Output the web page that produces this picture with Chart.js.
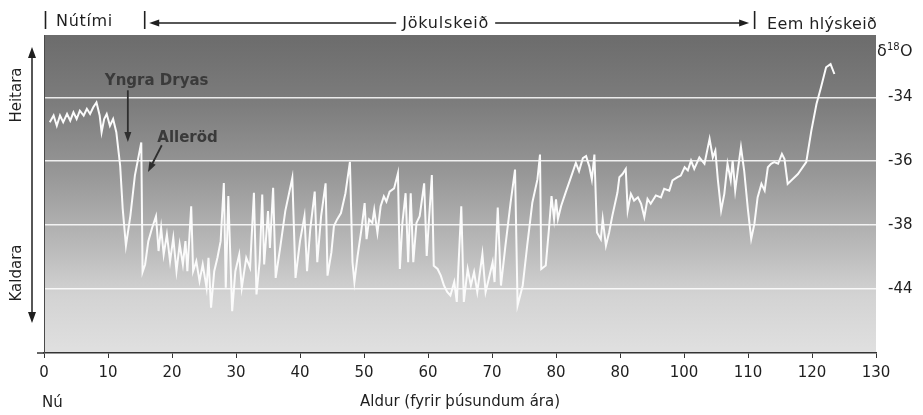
<!DOCTYPE html>
<html>
<head>
<meta charset="utf-8">
<script src="https://cdn.jsdelivr.net/npm/chart.js@4/dist/chart.umd.min.js"></script>
<style>
html, body { margin: 0; padding: 0; background: #fff; }
#wrap { width: 923px; height: 415px; }
</style>
</head>
<body>
<div id="wrap"><canvas id="chart" width="923" height="415"></canvas></div>
<script>
// age in thousand years before present
var ages = [
    0.9, 1.5, 2.0, 2.5, 3.0, 3.6, 4.1, 4.6, 5.1, 5.6, 6.2, 6.7, 7.2, 7.7, 8.2, 8.7, 9.0, 9.4, 9.8, 10.3,
    10.8, 11.3, 11.9, 12.3, 12.8, 13.5, 14.2, 15.2, 15.4,
    15.8, 16.3, 16.9, 17.5, 17.9, 18.3, 18.7, 19.2, 19.7, 20.2, 20.7, 21.2, 21.7, 22.1, 22.4, 23.0, 23.3,
    23.8, 24.3, 24.8, 25.4, 25.7, 26.1, 26.6, 27.1, 27.6, 28.1, 28.4, 28.8, 29.4, 29.9, 30.5, 30.9, 31.6,
    32.2, 32.8, 33.2, 33.7, 34.1, 34.4, 35.0, 35.3, 35.8, 36.2, 36.9, 37.7, 38.8, 39.3, 40.0, 40.7, 41.1,
    41.6, 42.3, 42.7, 43.3, 44.0, 44.3, 44.9, 45.3, 45.8, 46.4, 47.1, 47.8, 48.2, 48.5, 49.0, 49.6, 50.1,
    50.4, 50.8, 51.3, 51.6, 52.1, 52.6, 53.1, 53.5, 54.0, 54.7, 55.3, 55.6, 56.0, 56.5, 56.9, 57.3, 57.7,
    58.2, 58.7, 59.4, 59.8, 60.6, 60.9, 61.5, 62.0, 62.5, 63.0, 63.5, 64.1, 64.5, 65.2, 65.6, 66.2,
    66.7, 67.2, 67.7, 68.5, 69.0, 69.5, 70.1, 70.4, 70.9, 71.4, 72.1, 72.9, 73.6, 74.0, 74.8, 75.5, 76.3,
    77.1, 77.5, 77.7, 78.4, 78.9, 79.3, 79.7, 80.0, 80.3, 80.8, 81.5, 82.3, 83.1, 83.6, 84.2, 84.7, 85.2,
    85.6, 86.0, 86.4, 87.0, 87.3, 87.8, 88.3, 88.8, 89.6,
    89.9, 90.4, 90.9, 91.2, 91.7, 92.2, 92.8, 93.3, 93.8, 94.3, 94.8, 95.6, 96.4, 96.9, 97.7, 98.2, 99.0,
    99.5, 100.1, 100.6, 101.1, 101.6, 102.4, 103.2, 104.0, 104.5, 104.9, 105.3, 105.8, 106.3, 106.8,
    107.3, 107.6, 108.0, 108.4, 108.9, 109.4, 110.0, 110.5, 111.0, 111.5, 112.1, 112.6, 113.1, 113.6,
    114.1, 114.7, 115.3, 115.7, 116.2, 117.8, 119.1, 119.9, 120.7, 121.4, 122.2, 122.9, 123.5
];
var d18O = [
    -34.78, -34.57, -34.89, -34.57, -34.78, -34.52, -34.73, -34.47, -34.68, -34.42, -34.57, -34.36, -34.52, -34.31, -34.16, -34.57, -35.09, -34.68, -34.52, -34.89,
    -34.68, -35.09, -36.14, -37.49, -38.64, -37.70, -36.45, -35.41, -39.47,
    -39.23, -38.50, -38.08, -37.72, -38.81, -38.08, -38.92, -38.29, -39.13, -38.40, -39.44, -38.60, -39.23, -38.50, -39.44, -37.41, -39.44,
    -39.13, -39.75, -39.23, -39.96, -39.02, -40.58, -39.44, -39.02, -38.50, -36.68, -39.96, -37.09, -40.69, -39.44, -38.92, -39.96, -39.02,
    -39.33, -36.99, -40.17, -39.13, -37.04, -39.23, -37.56, -38.71, -36.83, -39.65, -38.71, -37.56, -36.52, -39.65, -38.50, -37.72, -39.44,
    -38.13, -36.95, -39.16, -37.72, -36.69, -39.58, -38.86, -38.03, -37.82, -37.62, -37.00, -36.02, -39.16, -39.78, -38.96, -38.13, -37.31,
    -38.44, -37.82, -37.93, -37.52, -38.24, -37.41, -37.10, -37.26, -36.95, -36.85, -36.38, -39.37, -37.93, -37.00, -39.16, -37.00, -39.16,
    -37.93, -37.72, -36.69, -38.96, -36.43, -39.27, -39.37, -39.58, -39.89, -40.09, -40.20, -39.78, -40.40, -37.41, -40.40, -39.37,
    -39.89, -39.47, -40.09, -38.90, -40.09, -39.68, -39.16, -39.78, -37.45, -39.89, -38.64, -37.30, -36.26, -40.51, -39.89, -38.64, -37.30,
    -36.57, -35.79, -39.37, -39.26, -38.12, -37.09, -37.81, -37.19, -37.81, -37.40, -36.98, -36.52, -36.05, -36.31, -35.90, -35.84, -36.16,
    -36.57, -35.79, -38.23, -38.44, -37.81, -38.64, -38.23, -37.71, -36.98,
    -36.50, -36.40, -36.24, -37.54, -37.02, -37.23, -37.13, -37.33, -37.75, -37.18, -37.33, -37.07, -37.13, -36.86, -36.92, -36.60, -36.50,
    -36.45, -36.19, -36.29, -35.98, -36.24, -35.88, -36.08, -35.30, -35.88, -35.67, -36.60, -37.54, -37.02, -36.08,
    -36.60, -35.98, -36.92, -36.29, -35.56, -36.29, -37.54, -38.43, -37.96, -37.13, -36.71, -36.92, -36.19, -36.08,
    -36.03, -36.08, -35.77, -35.93, -36.71, -36.40, -36.03, -35.04, -34.21, -33.69, -33.06, -32.96, -33.27
];

// the printed figure has "80" twice and "-44" under "-38"; kept as printed
var xTickLabels = ['0', '10', '20', '30', '40', '50', '60', '70', '80', '80', '100', '110', '120', '130'];
var yTickValues = [-40, -38, -36, -34];
var yTickLabels = ['-44', '-38', '-36', '-34'];

var periodBounds = [0, 15.5, 110.8];
var periodNames = ['Nútími', 'Jökulskeið', 'Eem hlýskeið'];

var FONT = '"DejaVu Sans", "Noto Sans", sans-serif';
var INK = '#1f1f1f';

function fitText(ctx, text, x, y, width) {
    ctx.letterSpacing = '0px';
    var w = ctx.measureText(text).width;
    var extra = (width - w) / text.length;
    if (extra > 0) ctx.letterSpacing = extra.toFixed(2) + 'px';
    ctx.fillText(text, x, y);
    ctx.letterSpacing = '0px';
}

function arrowHead(ctx, x1, y1, x2, y2, len, half) {
    var a = Math.atan2(y2 - y1, x2 - x1);
    ctx.beginPath();
    ctx.moveTo(x2, y2);
    ctx.lineTo(x2 - len * Math.cos(a) + half * Math.sin(a), y2 - len * Math.sin(a) - half * Math.cos(a));
    ctx.lineTo(x2 - len * Math.cos(a) - half * Math.sin(a), y2 - len * Math.sin(a) + half * Math.cos(a));
    ctx.closePath();
    ctx.fill();
}

function arrow(ctx, x1, y1, x2, y2, len, half) {
    var a = Math.atan2(y2 - y1, x2 - x1);
    ctx.beginPath();
    ctx.moveTo(x1, y1);
    ctx.lineTo(x2 - len * 0.6 * Math.cos(a), y2 - len * 0.6 * Math.sin(a));
    ctx.stroke();
    arrowHead(ctx, x1, y1, x2, y2, len, half);
}

var decorPlugin = {
    id: 'decor',
    beforeDraw: function (chart) {
        var ctx = chart.ctx, a = chart.chartArea;
        var g = ctx.createLinearGradient(0, a.top, 0, a.bottom);
        g.addColorStop(0, '#6c6c6c');
        g.addColorStop(0.22, '#7d7d7d');
        g.addColorStop(0.45, '#999999');
        g.addColorStop(0.68, '#bcbcbc');
        g.addColorStop(0.82, '#d3d3d3');
        g.addColorStop(1, '#e0e0e0');
        ctx.save();
        ctx.fillStyle = g;
        ctx.fillRect(a.left, a.top, a.right - a.left, a.bottom - a.top);
        ctx.restore();
    },
    afterDraw: function (chart) {
        var ctx = chart.ctx, a = chart.chartArea;
        var xs = chart.scales.x, ys = chart.scales.y;
        ctx.save();

        // left frame line and axis stub
        ctx.strokeStyle = '#4a4a4a';
        ctx.lineWidth = 1;
        ctx.beginPath();
        ctx.moveTo(a.left + 0.5, a.top);
        ctx.lineTo(a.left + 0.5, a.bottom);
        ctx.stroke();
        ctx.strokeStyle = '#333';
        ctx.lineWidth = 1.5;
        ctx.beginPath();
        ctx.moveTo(a.left - 7, a.bottom);
        ctx.lineTo(a.left, a.bottom);
        ctx.stroke();

        // period brackets above the plot
        ctx.fillStyle = INK;
        ctx.strokeStyle = INK;
        var bx = periodBounds.map(function (v) { return xs.getPixelForValue(v); });
        ctx.lineWidth = 1.6;
        bx.forEach(function (px) {
            ctx.beginPath();
            ctx.moveTo(px + 1.5, 11);
            ctx.lineTo(px + 1.5, 29);
            ctx.stroke();
        });
        ctx.font = '16px ' + FONT;
        ctx.textAlign = 'left';
        ctx.textBaseline = 'alphabetic';
        fitText(ctx, periodNames[0], bx[0] + 12, 26, 57);
        var midL = (bx[1] + bx[2]) / 2 - 46;
        fitText(ctx, periodNames[1], midL, 28, 87);
        fitText(ctx, periodNames[2], bx[2] + 14, 29, 110);
        ctx.lineWidth = 1.3;
        arrow(ctx, midL - 6, 23, bx[1] + 6, 23, 10, 3.5);
        arrow(ctx, midL + 93, 23, bx[2] - 4, 23, 10, 3.5);

        // warmer / colder arrow on the left
        ctx.lineWidth = 1.5;
        ctx.beginPath();
        ctx.moveTo(32, 54);
        ctx.lineTo(32, 316);
        ctx.stroke();
        arrowHead(ctx, 32, 100, 32, 47, 11, 4);
        arrowHead(ctx, 32, 280, 32, 323, 11, 4);
        ctx.font = '15px ' + FONT;
        ctx.textAlign = 'center';
        ctx.textBaseline = 'middle';
        ctx.save();
        ctx.translate(17, 95);
        ctx.rotate(-Math.PI / 2);
        ctx.fillText('Heitara', 0, 0);
        ctx.restore();
        ctx.save();
        ctx.translate(17, 273);
        ctx.rotate(-Math.PI / 2);
        ctx.fillText('Kaldara', 0, 0);
        ctx.restore();

        // delta 18 O over the right axis
        ctx.textAlign = 'left';
        ctx.textBaseline = 'alphabetic';
        ctx.font = '16px ' + FONT;
        ctx.fillText('δ', 877, 56);
        ctx.font = '10px ' + FONT;
        ctx.fillText('18', 887, 50);
        ctx.font = '16px ' + FONT;
        ctx.fillText('O', 900, 56);

        // "now" under the zero tick
        ctx.font = '15px ' + FONT;
        ctx.fillText('Nú', 42, 407);

        // event labels inside the plot
        ctx.fillStyle = '#3a3a3a';
        ctx.strokeStyle = '#2e2e2e';
        ctx.font = 'bold 15px ' + FONT;
        ctx.fillText('Yngra Dryas', xs.getPixelForValue(9.5), ys.getPixelForValue(-33.6));
        ctx.fillText('Alleröd', xs.getPixelForValue(17.7), ys.getPixelForValue(-35.4));
        ctx.fillStyle = '#2e2e2e';
        ctx.lineWidth = 1.8;
        arrow(ctx, xs.getPixelForValue(13.1), ys.getPixelForValue(-33.78),
            xs.getPixelForValue(13.1), ys.getPixelForValue(-35.4), 10, 3.5);
        arrow(ctx, xs.getPixelForValue(18.4), ys.getPixelForValue(-35.5),
            xs.getPixelForValue(16.25), ys.getPixelForValue(-36.34), 10, 3.5);

        ctx.restore();
    }
};

Chart.defaults.font.family = FONT;
Chart.defaults.font.size = 15;
Chart.defaults.color = INK;

var oChart = new Chart(document.getElementById('chart'), {
    type: 'line',
    data: {
        datasets: [{
            data: ages.map(function (a, i) { return { x: a, y: d18O[i] }; }),
            borderColor: '#fbfbfb',
            borderWidth: 2,
            pointRadius: 0,
            tension: 0,
            fill: false
        }]
    },
    options: {
        responsive: false,
        animation: false,
        devicePixelRatio: 1,
        layout: { padding: { left: 44, top: 35, right: 0, bottom: 0 } },
        plugins: { legend: { display: false }, tooltip: { enabled: false } },
        scales: {
            x: {
                type: 'linear',
                min: 0,
                max: 130,
                afterFit: function (axis) { axis.height = 62; },
                ticks: {
                    stepSize: 10,
                    autoSkip: false,
                    maxRotation: 0,
                    padding: 6,
                    callback: function (v, i) { return xTickLabels[i]; }
                },
                grid: { drawOnChartArea: false, drawTicks: true, tickLength: 5, color: '#333', lineWidth: 1 },
                border: { display: true, color: '#333', width: 1.5 },
                title: {
                    display: true,
                    text: 'Aldur (fyrir þúsundum ára)',
                    font: { size: 15 },
                    padding: { top: 0, bottom: 4 }
                }
            },
            y: {
                type: 'linear',
                position: 'right',
                min: -42,
                max: -32.05,
                afterFit: function (axis) { axis.width = 47; },
                afterBuildTicks: function (axis) {
                    axis.ticks = yTickValues.map(function (v) { return { value: v }; });
                },
                ticks: {
                    padding: 12,
                    callback: function (v) { return yTickLabels[yTickValues.indexOf(v)]; }
                },
                grid: { color: 'rgba(255,255,255,0.85)', lineWidth: 1.5, drawTicks: false },
                border: { display: false }
            }
        }
    },
    plugins: [decorPlugin]
});
</script>
</body>
</html>
